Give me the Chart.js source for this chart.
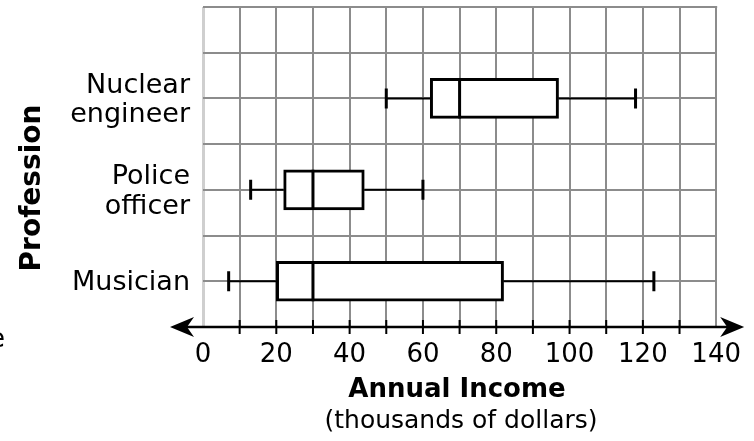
<!DOCTYPE html>
<html>
<head>
<meta charset="utf-8">
<script src="https://cdn.jsdelivr.net/npm/chart.js@4"></script>
<style>
    html, body { margin: 0; padding: 0; background: #fff; }
    #wrap { width: 754px; height: 441px; }
</style>
</head>
<body>
<div id="wrap"><canvas id="myChart"></canvas></div>
<script>
// DATA (thousands of dollars)
const professions = ['Musician', 'Police officer', 'Nuclear engineer'];
const professionLines = [['Musician'], ['Police', 'officer'], ['Nuclear', 'engineer']];
const mins = [7, 13, 50];
const q1s = [20, 22, 62];
const medians = [30, 30, 70];
const q3s = [82, 44, 97];
const maxs = [123, 60, 118];
const xTickLabels = ['0', '20', '40', '60', '80', '100', '120', '140'];
const xTitle = 'Annual Income';
const xSubTitle = '(thousands of dollars)';
const yTitle = 'Profession';

Chart.defaults.font.family = "'DejaVu Sans', sans-serif";
Chart.defaults.color = '#000';

// each profession sits on an odd row of the 0..7 grid
const rowOf = (i) => i * 2 + 1;

const boxWhiskers = {
    id: 'boxWhiskers',
    beforeDatasetsDraw(chart) {
        // top edge of the grid
        const { ctx, chartArea } = chart;
        ctx.save();
        ctx.strokeStyle = '#8c8c8c';
        ctx.lineWidth = 2;
        ctx.beginPath();
        ctx.moveTo(chartArea.left, chartArea.top);
        ctx.lineTo(chartArea.right + 1, chartArea.top);
        ctx.stroke();
        ctx.restore();
    },
    afterDatasetsDraw(chart) {
        const { ctx, scales: { x, y } } = chart;
        ctx.save();
        ctx.strokeStyle = '#000';
        professions.forEach((p, i) => {
            const cy = y.getPixelForValue(rowOf(i));
            // whiskers
            ctx.lineWidth = 2;
            ctx.beginPath();
            ctx.moveTo(x.getPixelForValue(mins[i]), cy);
            ctx.lineTo(x.getPixelForValue(q1s[i]), cy);
            ctx.moveTo(x.getPixelForValue(q3s[i]), cy);
            ctx.lineTo(x.getPixelForValue(maxs[i]), cy);
            ctx.stroke();
            // caps
            ctx.lineWidth = 3;
            ctx.beginPath();
            [mins[i], maxs[i]].forEach(v => {
                const px = x.getPixelForValue(v);
                ctx.moveTo(px, cy - 10);
                ctx.lineTo(px, cy + 10);
            });
            // median
            const mx = x.getPixelForValue(medians[i]);
            ctx.moveTo(mx, cy - 20);
            ctx.lineTo(mx, cy + 20);
            ctx.stroke();
        });
        ctx.restore();
    }
};

const axisAndTitles = {
    id: 'axisAndTitles',
    afterDraw(chart) {
        const { ctx, chartArea, scales: { x } } = chart;
        const ay = chartArea.bottom;
        const left = x.getPixelForValue(0) - 33;
        const right = x.getPixelForValue(140) + 28;
        ctx.save();
        ctx.strokeStyle = '#000';
        ctx.fillStyle = '#000';
        // number line
        ctx.lineWidth = 2.5;
        ctx.beginPath();
        ctx.moveTo(left + 8, ay);
        ctx.lineTo(right - 8, ay);
        ctx.stroke();
        // tick marks every 10
        ctx.lineWidth = 2;
        ctx.beginPath();
        for (let v = 10; v < 140; v += 10) {
            const px = x.getPixelForValue(v);
            ctx.moveTo(px, ay - 7);
            ctx.lineTo(px, ay + 7);
        }
        ctx.stroke();
        // arrow heads
        const arrow = (tip, dir) => {
            ctx.beginPath();
            ctx.moveTo(tip, ay);
            ctx.lineTo(tip + dir * 24, ay - 10);
            ctx.lineTo(tip + dir * 17, ay);
            ctx.lineTo(tip + dir * 24, ay + 10);
            ctx.closePath();
            ctx.fill();
        };
        arrow(left, 1);
        arrow(right, -1);

        // titles
        ctx.textAlign = 'center';
        ctx.textBaseline = 'alphabetic';
        ctx.font = "bold 26px 'DejaVu Sans', sans-serif";
        ctx.fillText(xTitle, 457, 397);
        ctx.font = "25px 'DejaVu Sans', sans-serif";
        ctx.fillText(xSubTitle, 461, 428);

        ctx.save();
        ctx.translate(40, 188);
        ctx.rotate(-Math.PI / 2);
        ctx.font = "bold 28px 'DejaVu Sans', sans-serif";
        ctx.fillText(yTitle, 0, 0);
        ctx.restore();

        // clipped text fragment at the left edge
        ctx.textAlign = 'left';
        ctx.font = "26px 'DejaVu Sans', sans-serif";
        ctx.fillText('e', -11, 347);
        ctx.restore();
    }
};

const ctx = document.querySelector('#myChart');
new Chart(ctx, {
    type: 'bar',
    data: {
        datasets: [
            {
                label: yTitle,
                data: professions.map((p, i) => ({ x: [q1s[i], q3s[i]], y: rowOf(i) })),
                backgroundColor: '#fff',
                borderColor: '#000',
                borderWidth: 3,
                borderSkipped: false,
                barThickness: 40,
            },
        ],
    },
    options: {
        indexAxis: 'y',
        responsive: true,
        maintainAspectRatio: false,
        animation: false,
        layout: { padding: { left: 0, right: 37, top: 7, bottom: 74 } },
        plugins: {
            legend: { display: false },
            tooltip: { enabled: false },
        },
        scales: {
            x: {
                type: 'linear',
                min: 0,
                max: 140,
                border: { display: false },
                grid: {
                    color: (c) => (c.tick && c.tick.value === 0 ? '#cfcfcf' : '#8c8c8c'),
                    lineWidth: (c) => (c.tick && c.tick.value === 0 ? 3 : 2),
                    drawTicks: false,
                },
                ticks: {
                    stepSize: 10,
                    autoSkip: false,
                    maxRotation: 0,
                    padding: 13,
                    font: { size: 26 },
                    callback: (value) => (value % 20 === 0 ? xTickLabels[value / 20] : ''),
                },
                afterFit: (s) => { s.height = 40; },
            },
            y: {
                type: 'linear',
                min: 0,
                max: 7,
                offset: false,
                border: { display: false },
                grid: {
                    offset: false,
                    color: '#8c8c8c',
                    lineWidth: 2,
                    drawTicks: false,
                },
                ticks: {
                    stepSize: 1,
                    autoSkip: false,
                    padding: 13,
                    labelOffset: 2,
                    font: { size: 27, lineHeight: 1.1 },
                    callback: (value) => (value % 2 === 1 ? professionLines[(value - 1) / 2] : ''),
                },
                afterFit: (s) => { s.width = 203; s.paddingTop = 0; s.paddingBottom = 0; },
            },
        },
    },
    plugins: [boxWhiskers, axisAndTitles],
});
</script>
</body>
</html>
